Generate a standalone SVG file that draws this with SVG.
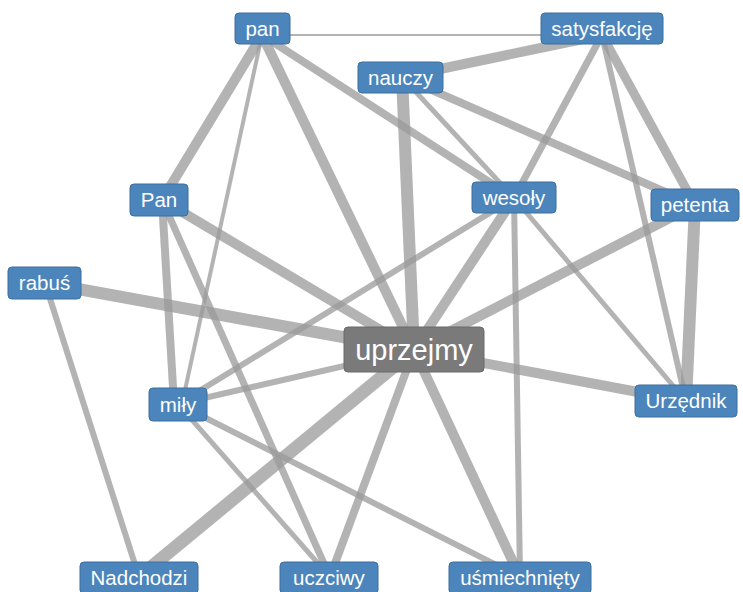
<svg xmlns="http://www.w3.org/2000/svg" width="743" height="592" viewBox="0 0 743 592">
<style>
.e{stroke:#999;stroke-opacity:0.75;fill:none;stroke-linecap:butt}
.n rect{fill:#4b85bb;stroke:#3c6f9f;stroke-width:1}
.n text{fill:#fff;font-family:"Liberation Sans",Arial,sans-serif;font-size:20.5px;text-anchor:middle}
.c rect{fill:#7a7a7a;stroke:#6a6a6a;stroke-width:1}
.c text{fill:#fff;font-family:"Liberation Sans",Arial,sans-serif;font-size:29px;text-anchor:middle}
</style>
<rect width="743" height="592" fill="#fff"/>
<g id="edges">
<line class="e" x1="262" y1="35" x2="602" y2="35" stroke-width="2"/>
<line class="e" x1="262" y1="35" x2="162" y2="200" stroke-width="10"/>
<line class="e" x1="262" y1="35" x2="182" y2="404" stroke-width="4"/>
<line class="e" x1="262" y1="35" x2="414" y2="350" stroke-width="10"/>
<line class="e" x1="262" y1="35" x2="514" y2="198" stroke-width="8"/>
<line class="e" x1="402" y1="77" x2="602" y2="35" stroke-width="10"/>
<line class="e" x1="402" y1="77" x2="414" y2="350" stroke-width="12"/>
<line class="e" x1="402" y1="77" x2="514" y2="198" stroke-width="5"/>
<line class="e" x1="402" y1="77" x2="695" y2="205" stroke-width="8"/>
<line class="e" x1="602" y1="35" x2="514" y2="198" stroke-width="7"/>
<line class="e" x1="602" y1="35" x2="695" y2="205" stroke-width="9"/>
<line class="e" x1="602" y1="35" x2="686" y2="401" stroke-width="6"/>
<line class="e" x1="162" y1="200" x2="414" y2="350" stroke-width="10"/>
<line class="e" x1="162" y1="200" x2="174" y2="404" stroke-width="8"/>
<line class="e" x1="162" y1="200" x2="330" y2="577" stroke-width="7"/>
<line class="e" x1="45" y1="283" x2="414" y2="350" stroke-width="12"/>
<line class="e" x1="45" y1="283" x2="139" y2="577" stroke-width="6"/>
<line class="e" x1="514" y1="198" x2="414" y2="350" stroke-width="10"/>
<line class="e" x1="514" y1="198" x2="178" y2="404" stroke-width="6"/>
<line class="e" x1="514" y1="198" x2="520" y2="577" stroke-width="6"/>
<line class="e" x1="514" y1="198" x2="686" y2="401" stroke-width="5"/>
<line class="e" x1="695" y1="205" x2="414" y2="350" stroke-width="10"/>
<line class="e" x1="695" y1="205" x2="686" y2="401" stroke-width="12"/>
<line class="e" x1="414" y1="350" x2="686" y2="401" stroke-width="10"/>
<line class="e" x1="414" y1="350" x2="139" y2="577" stroke-width="13"/>
<line class="e" x1="414" y1="350" x2="330" y2="577" stroke-width="8"/>
<line class="e" x1="414" y1="350" x2="520" y2="577" stroke-width="10"/>
<line class="e" x1="414" y1="350" x2="178" y2="404" stroke-width="6"/>
<line class="e" x1="178" y1="404" x2="330" y2="577" stroke-width="5"/>
<line class="e" x1="178" y1="404" x2="520" y2="577" stroke-width="6"/>
</g>
<g id="node-pan" class="n"><rect x="235" y="13" width="55" height="31" rx="4"/><text x="262.5" y="35.5">pan</text></g>
<g id="node-satysfakcje" class="n"><rect x="541" y="13" width="122" height="31" rx="4"/><text x="602" y="35.5">satysfakcję</text></g>
<g id="node-nauczy" class="n"><rect x="358" y="62" width="85" height="31" rx="4"/><text x="400.5" y="84.5">nauczy</text></g>
<g id="node-Pan" class="n"><rect x="130" y="184" width="58" height="32" rx="4"/><text x="159" y="207">Pan</text></g>
<g id="node-rabus" class="n"><rect x="8" y="267" width="73" height="32" rx="4"/><text x="44.5" y="290">rabuś</text></g>
<g id="node-wesoly" class="n"><rect x="472" y="182" width="84" height="31" rx="4"/><text x="514" y="204.5">wesoły</text></g>
<g id="node-petenta" class="n"><rect x="651" y="189" width="88" height="32" rx="4"/><text x="695" y="212">petenta</text></g>
<g id="node-uprzejmy" class="c"><rect x="344" y="327" width="140" height="45" rx="4"/><text x="414" y="360">uprzejmy</text></g>
<g id="node-mily" class="n"><rect x="149" y="388" width="58" height="33" rx="4"/><text x="178" y="411.5">miły</text></g>
<g id="node-Urzednik" class="n"><rect x="635" y="385" width="102" height="32" rx="4"/><text x="686" y="408">Urzędnik</text></g>
<g id="node-Nadchodzi" class="n"><rect x="80" y="562" width="118" height="32" rx="4"/><text x="139" y="585">Nadchodzi</text></g>
<g id="node-uczciwy" class="n"><rect x="280" y="562" width="98" height="32" rx="4"/><text x="329" y="585">uczciwy</text></g>
<g id="node-usmiechniety" class="n"><rect x="449" y="562" width="142" height="32" rx="4"/><text x="520" y="585">uśmiechnięty</text></g>
</svg>
